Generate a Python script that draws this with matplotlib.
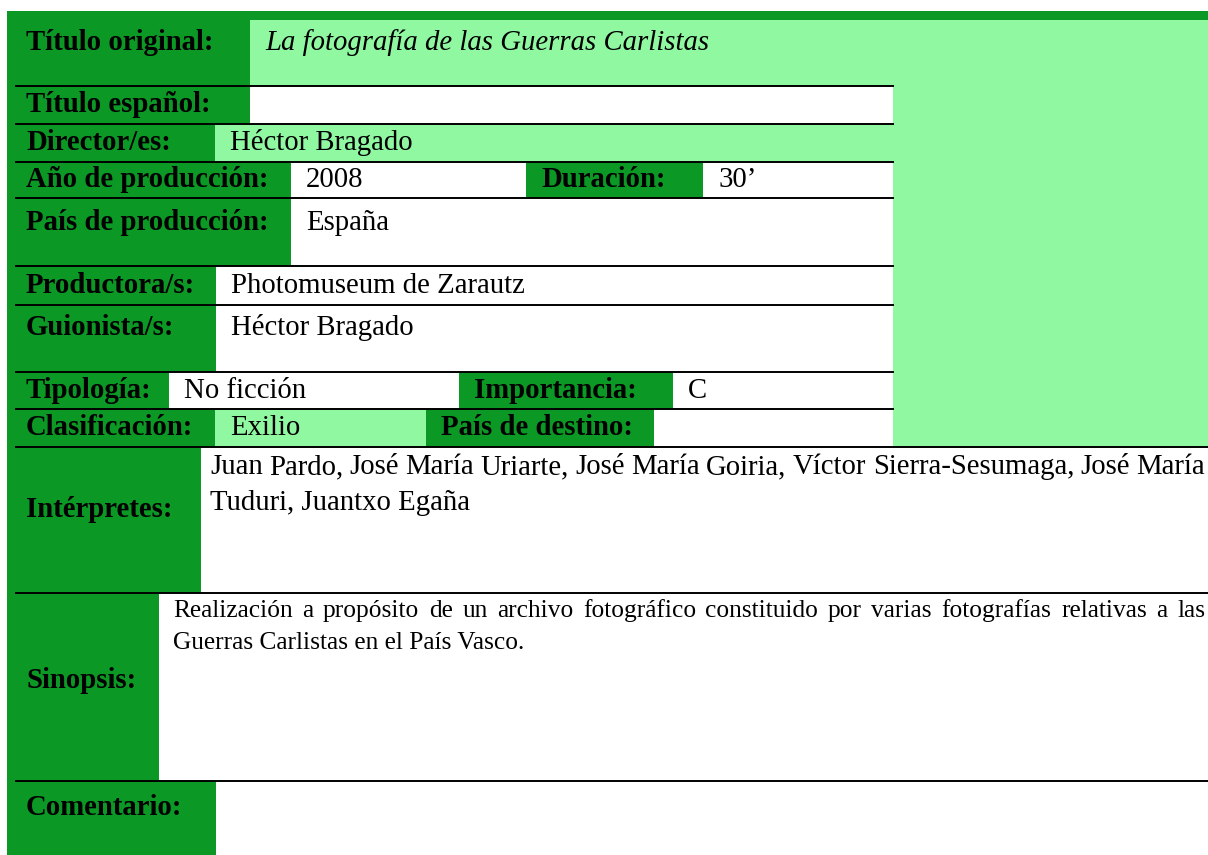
import matplotlib.pyplot as plt
from matplotlib.patches import Rectangle

# form content
labels = ["Título original:", "Título español:", "Director/es:", "Año de producción:",
          "Duración:", "País de producción:", "Productora/s:", "Guionista/s:",
          "Tipología:", "Importancia:", "Clasificación:", "País de destino:",
          "Intérpretes:", "Sinopsis:", "Comentario:"]
values = ["La fotografía de las Guerras Carlistas", "", "Héctor Bragado", "2008",
          "30’", "España", "Photomuseum de Zarautz", "Héctor Bragado",
          "No ficción", "C", "Exilio", "", "", "", ""]
interpretes_lines = ["Juan Pardo, José María Uriarte, José María Goiria, Víctor Sierra-Sesumaga, José María",
                     "Tuduri, Juantxo Egaña"]
sinopsis_lines = ["Realización a propósito de un archivo fotográfico constituido por varias fotografías relativas a las",
                  "Guerras Carlistas en el País Vasco."]

DARK = "#0c9824"
LIGHT = "#8ff8a0"
FONT = "Liberation Serif"
FS = 20.7

# layout in pixels: label x0, label x1, value x1, y0, y1, value colour, text baseline
layout = [
    (7, 250, 1208, 11, 86, LIGHT, 50),
    (7, 250, 893, 86, 124, "white", 112),
    (7, 215, 893, 124, 162, LIGHT, 150),
    (7, 291, 526, 162, 198, "white", 187),
    (526, 703, 893, 162, 198, "white", 187),
    (7, 291, 893, 198, 266, "white", 230),
    (7, 216, 893, 266, 305, "white", 293),
    (7, 216, 893, 305, 372, "white", 335),
    (7, 169, 459, 372, 409, "white", 398),
    (459, 673, 893, 372, 409, "white", 398),
    (7, 215, 426, 409, 447, LIGHT, 435),
    (426, 654, 893, 409, 447, "white", 435),
    (7, 201, 1208, 447, 593, "white", 517),
    (7, 159, 1208, 593, 781, "white", 688),
    (7, 216, 1208, 781, 855, "white", 815),
]

fig = plt.figure(figsize=(12.08, 8.55), dpi=100)
ax = fig.add_axes([0, 0, 1, 1])
ax.set_xlim(0, 1208)
ax.set_ylim(855, 0)
ax.axis("off")

ax.add_patch(Rectangle((7, 11), 1201, 9, color=DARK, lw=0))
ax.add_patch(Rectangle((893, 20), 315, 427, color=LIGHT, lw=0))

for lab, val, (lx0, lx1, vx1, y0, y1, vcol, base) in zip(labels, values, layout):
    top = 20 if vcol == LIGHT and y0 == 11 else y0
    ax.add_patch(Rectangle((lx0, y0), lx1 - lx0, y1 - y0, color=DARK, lw=0))
    ax.add_patch(Rectangle((lx1, top), vx1 - lx1, y1 - top, color=vcol, lw=0))
    pad = 19 if lx0 == 7 else 15
    ax.text(lx0 + pad, base, lab, fontfamily=FONT, fontsize=FS, fontweight="bold",
            va="baseline", ha="left", color="black")
    if val:
        ax.text(lx1 + 15, base, val, fontfamily=FONT, fontsize=FS, va="baseline", ha="left",
                style="italic" if y0 == 11 else "normal", color="black")

renderer = fig.canvas.get_renderer()


def justified(lines, x0, x1, base, step, size):
    for i, line in enumerate(lines):
        y = base + i * step
        if i == len(lines) - 1:
            ax.text(x0, y, line, fontfamily=FONT, fontsize=size, va="baseline", ha="left")
            continue
        words = line.split(" ")
        arts = [ax.text(x0, y, w, fontfamily=FONT, fontsize=size, va="baseline", ha="left")
                for w in words]
        widths = [a.get_window_extent(renderer).width for a in arts]
        gap = (x1 - x0 - sum(widths)) / (len(words) - 1)
        x = x0
        for a, w in zip(arts, widths):
            a.set_x(x)
            x += w + gap


justified(interpretes_lines, 210, 1205, 474, 36, FS)
justified(sinopsis_lines, 173, 1205, 617, 32, 18.3)

# row separators
short_lines = [86, 124, 162, 198, 266, 305, 372, 409]
long_lines = [447, 593, 781]
ax.hlines(short_lines, 15, 894, colors="black", lw=1.4)
ax.hlines(long_lines, 15, 1208, colors="black", lw=1.4)

fig.savefig("out.png", dpi=100)
